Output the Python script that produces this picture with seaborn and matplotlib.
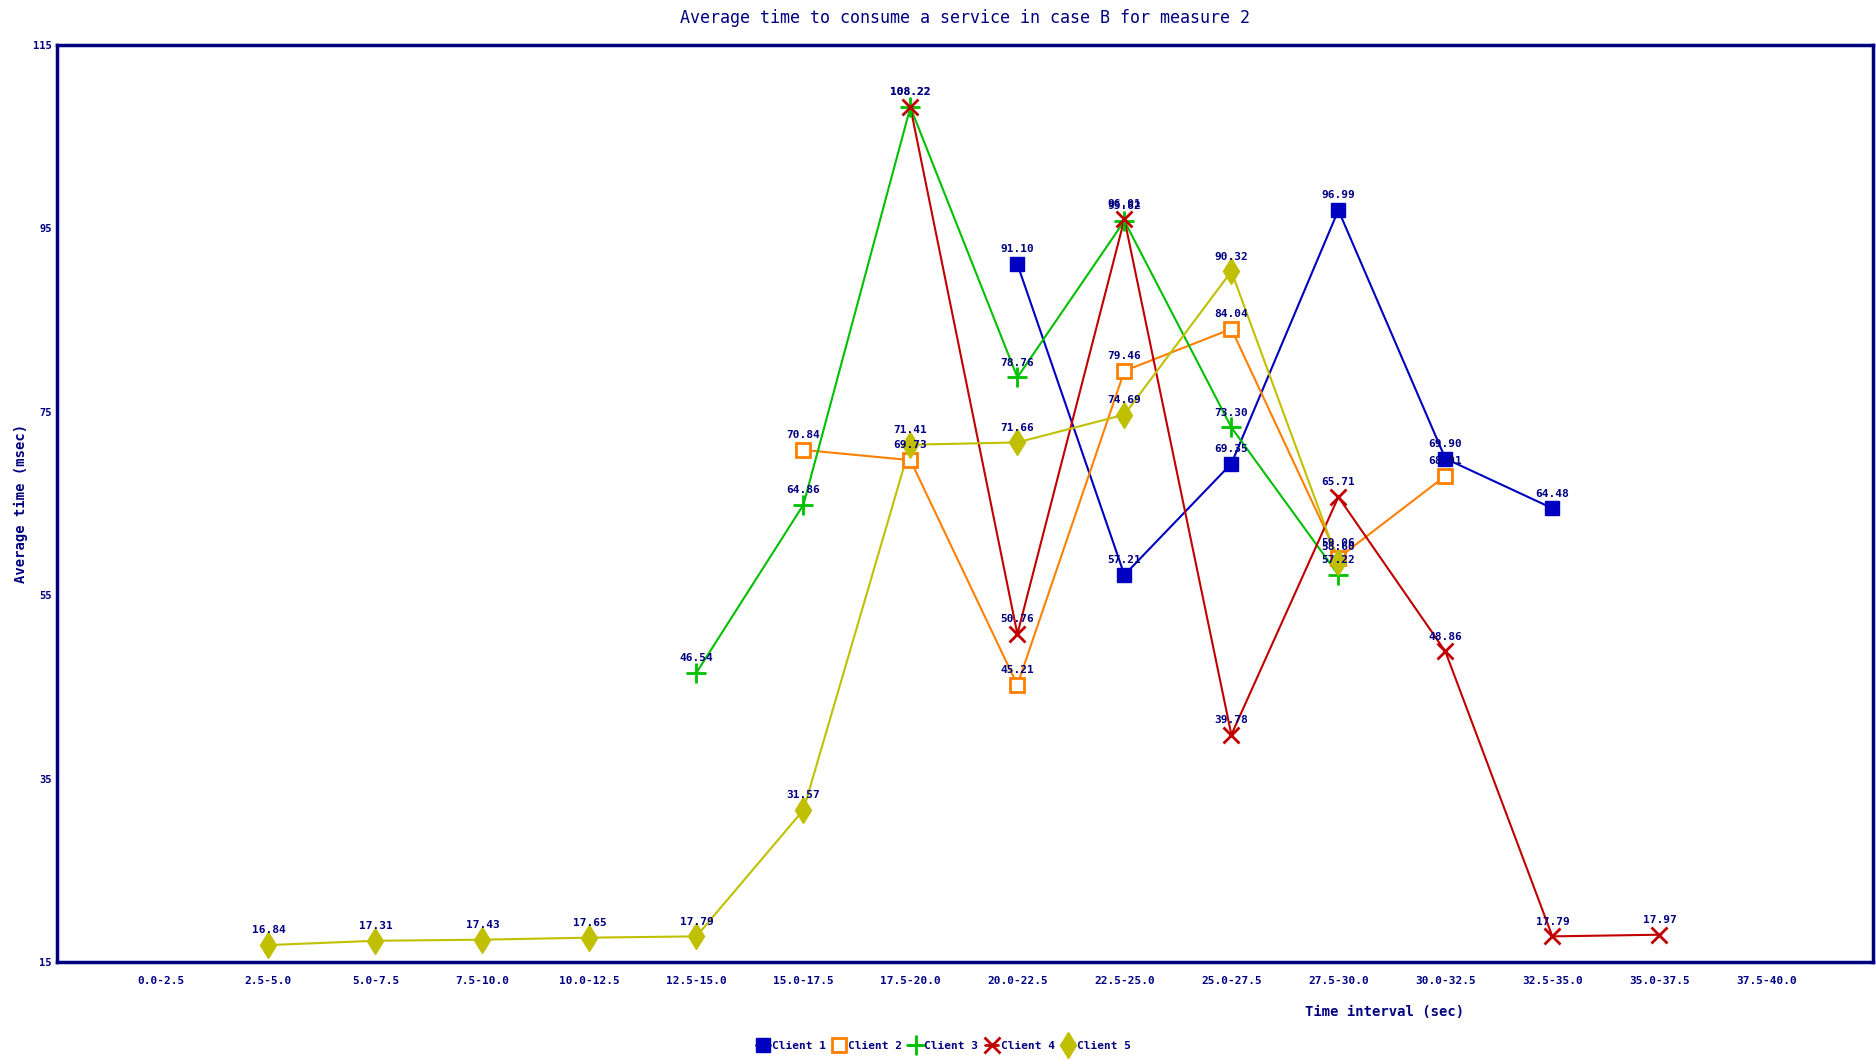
import numpy as np
import pandas as pd
import matplotlib
matplotlib.use("Agg")
import matplotlib.pyplot as plt
import seaborn as sns

# Time-interval categories on the x axis
intervals = ["0.0-2.5", "2.5-5.0", "5.0-7.5", "7.5-10.0", "10.0-12.5", "12.5-15.0",
             "15.0-17.5", "17.5-20.0", "20.0-22.5", "22.5-25.0", "25.0-27.5",
             "27.5-30.0", "30.0-32.5", "32.5-35.0", "35.0-37.5", "37.5-40.0"]

# Average consume time per client (msec); first index is the interval where the series starts
client1_start = 8
client1 = [91.10, 57.21, 69.35, 96.99, 69.90, 64.48]
client2_start = 6
client2 = [70.84, 69.73, 45.21, 79.46, 84.04, 59.06, 68.01]
client3_start = 5
client3 = [46.54, 64.86, 108.22, 78.76, 95.82, 73.30, 57.22]
client4_start = 7
client4 = [108.22, 50.76, 96.01, 39.78, 65.71, 48.86, 17.79, 17.97]
client5_start = 1
client5 = [16.84, 17.31, 17.43, 17.65, 17.79, 31.57, 71.41, 71.66, 74.69, 90.32, 58.60]

y_ticks = [15, 35, 55, 75, 95, 115]

series = {
    "Client 1": (client1_start, client1),
    "Client 2": (client2_start, client2),
    "Client 3": (client3_start, client3),
    "Client 4": (client4_start, client4),
    "Client 5": (client5_start, client5),
}

rows = []
for name, (start, vals) in series.items():
    for i, v in enumerate(vals):
        rows.append({"client": name, "idx": start + i, "value": v})
df = pd.DataFrame(rows)

NAVY = "#000080"
palette = {"Client 1": "#0000c0", "Client 2": "#ff8000", "Client 3": "#00c000",
           "Client 4": "#c00000", "Client 5": "#c0c000"}

sns.set_theme(style="white")
plt.rcParams["font.family"] = ["DejaVu Sans Mono", "DejaVu Sans"]

fig = plt.figure(figsize=(18.76, 10.60), dpi=100)
ax = fig.add_axes([0.0306, 0.0925, 0.968, 0.865])

sns.lineplot(data=df, x="idx", y="value", hue="client", style="client",
             palette=palette, markers=False, dashes=False, sort=False,
             estimator=None, linewidth=1.5, ax=ax, legend=False)

# Markers drawn per series so open / filled styles match each client
mstyle = {
    "Client 1": dict(marker="s", ms=10, mfc=palette["Client 1"], mec=palette["Client 1"], mew=1),
    "Client 2": dict(marker="s", ms=10, mfc="white", mec=palette["Client 2"], mew=2.0),
    "Client 3": dict(marker="+", ms=14, mfc="none", mec=palette["Client 3"], mew=2.0),
    "Client 4": dict(marker="x", ms=11, mfc="none", mec=palette["Client 4"], mew=2.0),
    "Client 5": dict(marker="d", ms=13, mfc=palette["Client 5"], mec=palette["Client 5"], mew=1),
}
handles = []
for name, (start, vals) in series.items():
    xs = np.arange(start, start + len(vals))
    ax.plot(xs, vals, linestyle="none", zorder=3, **mstyle[name])
    handles.append(plt.Line2D([], [], color=palette[name], lw=2, **mstyle[name]))
    for x, v in zip(xs, vals):
        ax.annotate(f"{v:.2f}", (x, v), xytext=(0, 7), textcoords="offset points",
                    ha="center", va="bottom", fontsize=8, fontweight="bold",
                    color=NAVY, zorder=4)

ax.set_xlim(-0.972, 16.0)
ax.set_ylim(15, 115)
ax.set_xticks(range(len(intervals)))
ax.set_xticklabels(intervals, fontsize=8, fontweight="bold", color=NAVY)
ax.set_yticks(y_ticks)
ax.set_yticklabels([str(t) for t in y_ticks], fontsize=7.5, fontweight="bold", color=NAVY)
ax.tick_params(axis="x", direction="in", length=8, width=2, color=NAVY, pad=10)
ax.tick_params(axis="y", direction="in", length=5, width=2, color=NAVY, pad=4)
ax.set_xlabel("")
ax.set_ylabel("Average time (msec)", fontsize=10, fontweight="bold", color=NAVY, labelpad=4)
for side in ["left", "right", "top", "bottom"]:
    ax.spines[side].set_color(NAVY)
    ax.spines[side].set_linewidth(2.5)
    ax.spines[side].set_visible(True)
ax.grid(False)

fig.text(0.5145, 0.983, "Average time to consume a service in case B for measure 2",
         ha="center", va="center", fontsize=12, color=NAVY)
fig.text(0.738, 0.045, "Time interval (sec)", ha="center", va="center",
         fontsize=10, fontweight="bold", color=NAVY)

fig.legend(handles, list(series.keys()), loc="center", bbox_to_anchor=(0.503, 0.013),
           ncol=5, frameon=False, handlelength=1.2, handletextpad=0.2,
           columnspacing=0.6, prop={"size": 8, "weight": "bold"}, labelcolor=NAVY)

fig.savefig("out.png", dpi=100, facecolor="white")
